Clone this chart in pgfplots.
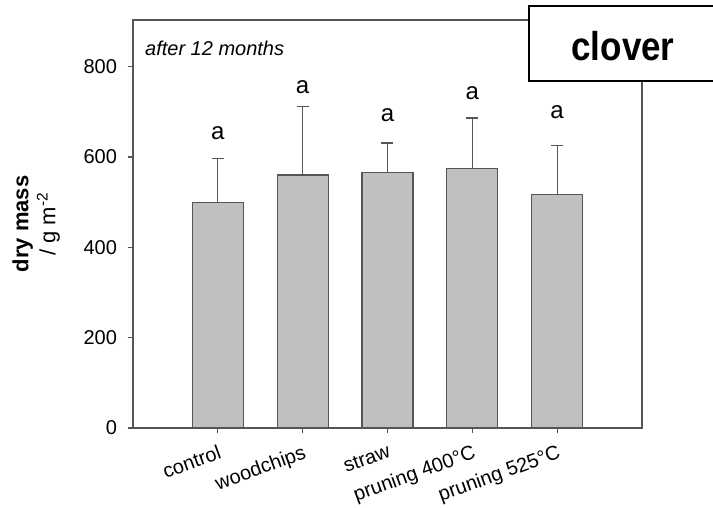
\documentclass[border=0pt]{standalone}
\usepackage{pgfplots}
\pgfplotsset{compat=1.18}
\usepackage{fontspec}
\setmainfont{Liberation Sans}
\definecolor{barfill}{RGB}{192,192,192}
\definecolor{edge}{RGB}{85,85,85}
\begin{document}
\begin{tikzpicture}[x=1pt,y=1pt]
\path[use as bounding box] (-66.5,-40) rectangle (290,214);
\begin{axis}[
  at={(0,0)}, anchor=south west,
  scale only axis, width=254.5pt, height=204pt,
  xmin=-1, xmax=5, ymin=0, ymax=903,
  axis line style={draw=edge, line width=0.6pt},
  tick style={draw=edge, line width=0.6pt},
  tick align=outside, tick pos=left,
  major tick length=2.5pt,
  xtick={0,1,2,3,4},
  xticklabels={control,woodchips,straw,pruning 400°C,pruning 525°C},
  ytick={0,200,400,600,800},
  /pgf/number format/assume math mode=true,
  ticklabel style={font=\fontsize{10}{12}\selectfont},
  xticklabel style={rotate=20, anchor=north east, inner sep=1pt, xshift=-1pt, yshift=-4pt},
  yticklabel style={xshift=-2pt},
  ylabel={\textbf{dry mass}\\/ g m\textsuperscript{-2}},
  ylabel style={at={(axis description cs:-0.19,0.5)}, anchor=center, align=center, font=\fontsize{11}{13.5}\selectfont},
  clip=false,
]
\addplot[ybar, bar width=0.6, fill=barfill, draw=edge, line width=0.6pt,
  error bars/.cd, y dir=plus, y explicit,
  error bar style={draw=edge, line width=0.6pt},
  error mark options={rotate=90, draw=edge, line width=0.6pt, mark size=3pt}]
coordinates {
  (0,499) +- (0,97)
  (1,560) +- (0,151)
  (2,566) +- (0,65)
  (3,574) +- (0,112)
  (4,516) +- (0,110)
};
\addplot[draw=none, mark=none, nodes near coords={a},
  every node near coord/.style={anchor=center, font=\fontsize{12}{14}\selectfont}]
coordinates {(0,653) (1,755) (2,693) (3,741) (4,700)};
\node[anchor=west, font=\itshape\fontsize{10}{12}\selectfont] at (axis description cs:0.01,0.93) {after 12 months};
\end{axis}
\draw[line width=1pt, fill=white] (198,173.5) rectangle (300,211);
\node[font=\bfseries\fontsize{17.5}{20}\selectfont] at (245,191) {\scalebox{1}[1.15]{clover}};
\end{tikzpicture}
\end{document}
